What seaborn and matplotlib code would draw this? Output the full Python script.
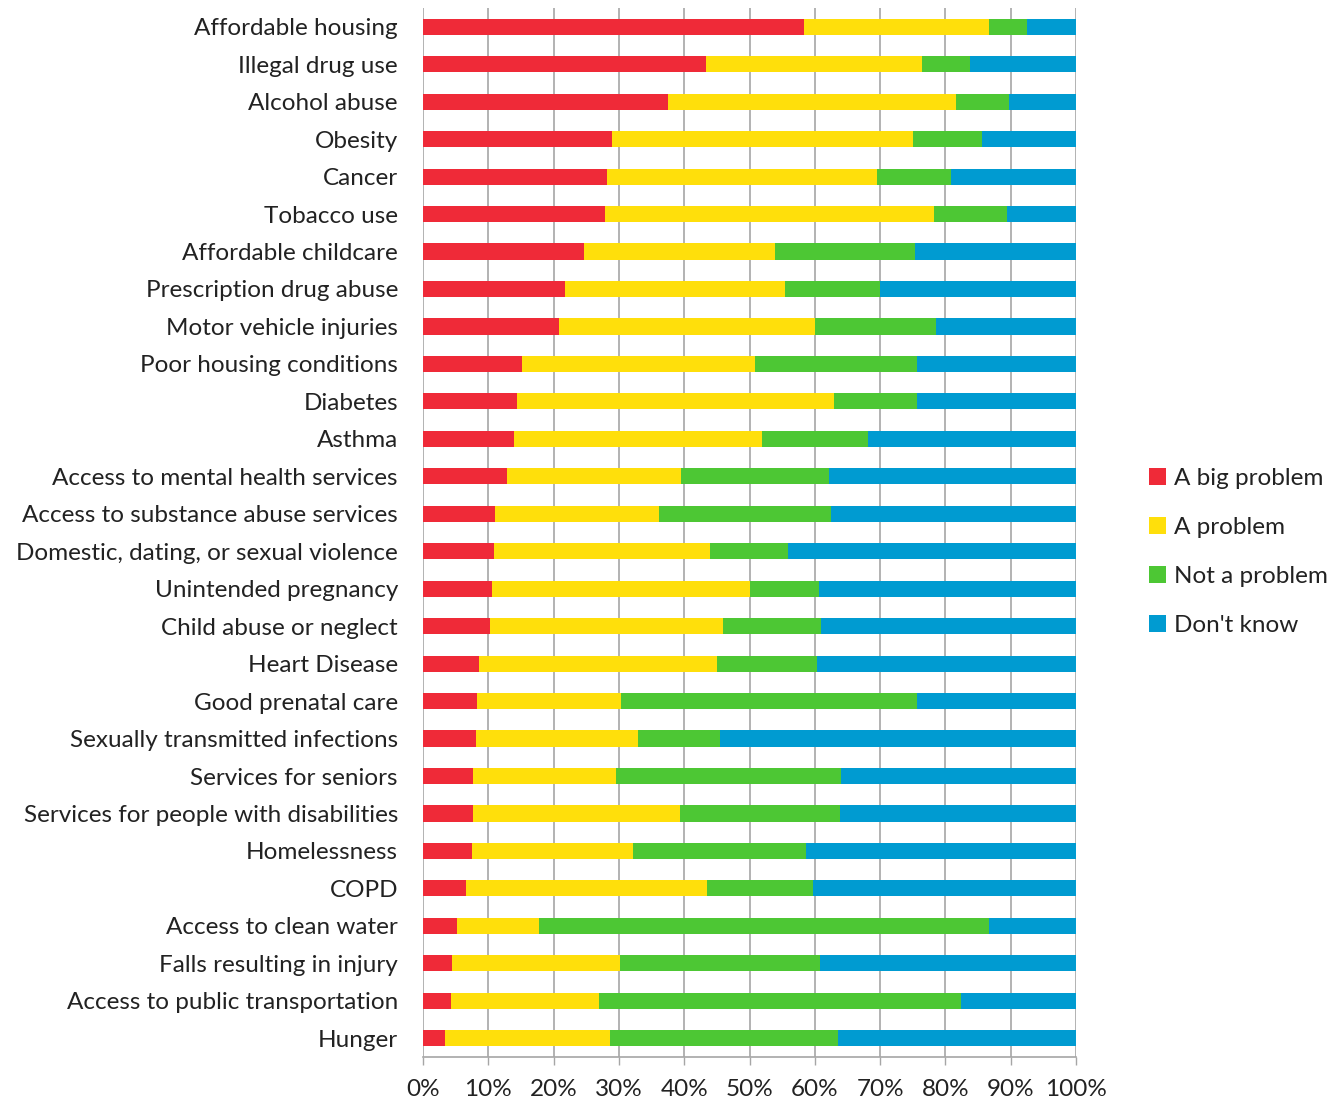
import matplotlib
matplotlib.use("Agg")
import matplotlib.pyplot as plt
from matplotlib.patches import Patch
import numpy as np
import pandas as pd
import seaborn as sns

# Survey responses (% of respondents) per community health issue
issues = [
    "Affordable housing", "Illegal drug use", "Alcohol abuse", "Obesity", "Cancer",
    "Tobacco use", "Affordable childcare", "Prescription drug abuse",
    "Motor vehicle injuries", "Poor housing conditions", "Diabetes", "Asthma",
    "Access to mental health services", "Access to substance abuse services",
    "Domestic, dating, or sexual violence", "Unintended pregnancy",
    "Child abuse or neglect", "Heart Disease", "Good prenatal care",
    "Sexually transmitted infections", "Services for seniors",
    "Services for people with disabilities", "Homelessness", "COPD",
    "Access to clean water", "Falls resulting in injury",
    "Access to public transportation", "Hunger",
]
big_problem = [58.3, 43.3, 37.5, 29.0, 28.2, 27.8, 24.7, 21.7, 20.9, 15.2, 14.4, 14.0,
               12.9, 11.1, 10.8, 10.5, 10.3, 8.6, 8.3, 8.1, 7.7, 7.7, 7.5, 6.6,
               5.2, 4.4, 4.3, 3.3]
a_problem = [28.4, 33.1, 44.1, 46.1, 41.4, 50.5, 29.2, 33.7, 39.1, 35.7, 48.6, 37.9,
             26.6, 25.1, 33.2, 39.5, 35.6, 36.4, 22.0, 24.8, 21.8, 31.7, 24.6, 36.9,
             12.5, 25.7, 22.7, 25.3]
not_problem = [5.8, 7.3, 8.2, 10.5, 11.2, 11.2, 21.4, 14.6, 18.5, 24.8, 12.6, 16.2,
               22.6, 26.3, 11.9, 10.6, 15.0, 15.3, 45.3, 12.6, 34.5, 24.4, 26.5, 16.3,
               69.0, 30.7, 55.4, 35.0]
dont_know = [7.5, 16.3, 10.2, 14.4, 19.2, 10.5, 24.7, 30.0, 21.5, 24.3, 24.4, 31.9,
             37.9, 37.5, 44.1, 39.4, 39.1, 39.7, 24.4, 54.5, 36.0, 36.2, 41.4, 40.2,
             13.3, 39.2, 17.6, 36.4]
responses = ["A big problem", "A problem", "Not a problem", "Don't know"]
colors = ["#EF2A38", "#FFDF0B", "#4DC734", "#009BD1"]
x_ticks = [0, 10, 20, 30, 40, 50, 60, 70, 80, 90, 100]

df = pd.DataFrame({
    "issue": issues,
    responses[0]: big_problem,
    responses[1]: a_problem,
    responses[2]: not_problem,
    responses[3]: dont_know,
})
# cumulative right edges of each stacked segment
cum = df[responses].cumsum(axis=1)

sns.set_theme(style="white")
plt.rcParams["font.family"] = ["Lato", "DejaVu Sans"]
FS = 17.5

fig = plt.figure(figsize=(13.4, 11.03), dpi=100)
ax = fig.add_axes([423 / 1340, 1 - 1057 / 1103, 653 / 1340, 1049 / 1103])

# draw segments back to front so each shorter cumulative bar covers the longer one
for resp, col in reversed(list(zip(responses, colors))):
    sns.barplot(x=cum[resp], y=df["issue"], orient="h", color=col,
                width=0.43, linewidth=0, saturation=1, ax=ax, zorder=3)

ax.set_xlim(0, 100)
ax.set_ylim(len(issues) - 0.5, -0.5)
ax.set_xticks(x_ticks)
ax.set_xticklabels([f"{t}%" for t in x_ticks], fontsize=FS, color="#222222")
ax.tick_params(axis="y", labelsize=FS, labelcolor="#222222", length=0, pad=18)
ax.tick_params(axis="x", length=6, width=1, color="#A6A6A6", direction="out",
               pad=10, bottom=True)
ax.set_xlabel("")
ax.set_ylabel("")
ax.grid(axis="x", color="#A6A6A6", linewidth=1.2, zorder=0)
ax.grid(axis="y", visible=False)
for side in ["top", "right"]:
    ax.spines[side].set_visible(False)
ax.spines["left"].set_visible(False)
ax.spines["bottom"].set_color("#A6A6A6")
ax.spines["bottom"].set_linewidth(1.2)

handles = [Patch(facecolor=c, edgecolor="none") for c in colors]
fig.legend(handles, responses, loc="center left",
           bbox_to_anchor=(1127 / 1340, 1 - 552 / 1103), frameon=False,
           fontsize=FS, handlelength=0.7, handleheight=0.7,
           handletextpad=0.35, labelspacing=1.15, labelcolor="#222222")

fig.savefig("out.png", dpi=100)
